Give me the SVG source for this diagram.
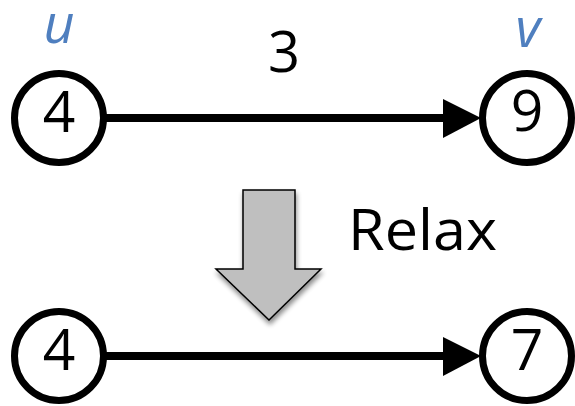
<svg xmlns="http://www.w3.org/2000/svg" width="575" height="406" viewBox="0 0 575 406">
<defs>
<style>
.node circle{fill:#fff;stroke:#000;stroke-width:7}
.num{font-family:"Open Sans","Liberation Sans",sans-serif;font-size:57px;fill:#000;text-anchor:middle}
.lbl{font-family:"Open Sans","Liberation Sans",sans-serif;font-style:italic;font-size:54px;fill:#4f7fbf;text-anchor:middle}
.txt{font-family:"Open Sans","Liberation Sans",sans-serif;font-size:56px;fill:#000}
.edge{stroke:#000;stroke-width:8;fill:none}
.head{fill:#000}
</style>
<filter id="sh" x="-30%" y="-30%" width="160%" height="160%">
<feGaussianBlur in="SourceAlpha" stdDeviation="2.5"/>
<feOffset dx="1" dy="4" result="b"/>
<feComponentTransfer><feFuncA type="linear" slope="0.45"/></feComponentTransfer>
<feMerge><feMergeNode/><feMergeNode in="SourceGraphic"/></feMerge>
</filter>
</defs>
<rect width="575" height="406" fill="#fff"/>
<g id="connectors">
<line class="edge" x1="104" y1="118" x2="446" y2="118"/>
<polygon class="head" points="443,99 481,118 443,138"/>
<line class="edge" x1="104" y1="356" x2="446" y2="356"/>
<polygon class="head" points="443,337 481,356 443,376"/>
</g>
<g id="edge-label">
<text class="txt" x="284" y="72" text-anchor="middle">3</text>
</g>
<g id="node-u" class="node">
<circle cx="59" cy="118" r="44.5"/>
<text class="num" x="59" y="132">4</text>
<text class="lbl" x="59" y="43">u</text>
</g>
<g id="node-v" class="node">
<circle cx="527" cy="118" r="44.5"/>
<text class="num" x="527" y="131">9</text>
<text class="lbl" x="528" y="47">v</text>
</g>
<g id="relax-arrow">
<polygon points="243,190 295,190 295,269 321,269 269,320 216,269 243,269" fill="#bfbfbf" stroke="#000" stroke-width="1.5" filter="url(#sh)"/>
<text class="txt" x="348" y="250" textLength="149" lengthAdjust="spacingAndGlyphs">Relax</text>
</g>
<g id="node-u2" class="node">
<circle cx="59" cy="356" r="44.5"/>
<text class="num" x="59" y="370">4</text>
</g>
<g id="node-v2" class="node">
<circle cx="527" cy="356" r="44.5"/>
<text class="num" x="527" y="370">7</text>
</g>
</svg>
